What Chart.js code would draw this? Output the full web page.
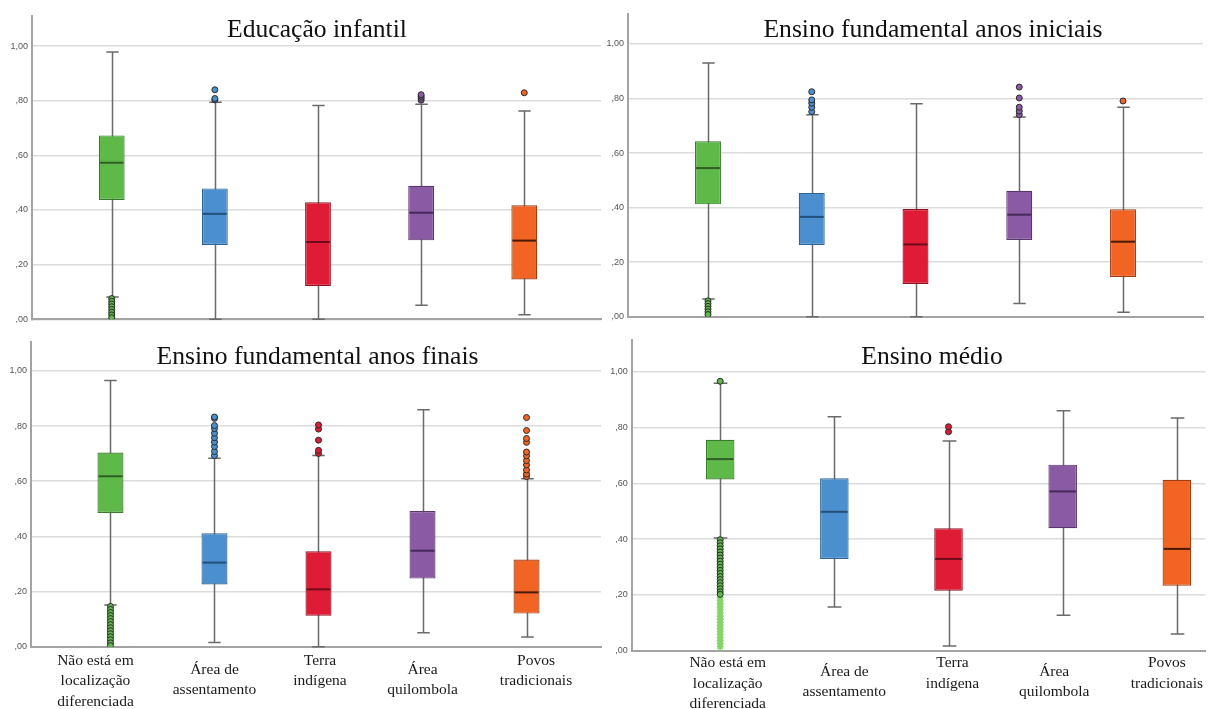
<!DOCTYPE html>
<html lang="pt-BR">
<head>
<meta charset="utf-8">
<title>Distribuição por localização diferenciada</title>
<script src="https://cdn.jsdelivr.net/npm/chart.js@4.4.1/dist/chart.umd.min.js"></script>
<style>
  html, body { margin: 0; padding: 0; background: #ffffff; }
  #wrap { position: relative; width: 1211px; height: 709px; overflow: hidden; background: #fff; }
  #wrap canvas { position: absolute; }
</style>
</head>
<body>
<div id="wrap">
  <canvas id="c1" width="605" height="330" style="left:0;top:0"></canvas>
  <canvas id="c2" width="606" height="330" style="left:605px;top:0"></canvas>
  <canvas id="c3" width="605" height="379" style="left:0;top:330px"></canvas>
  <canvas id="c4" width="606" height="379" style="left:605px;top:330px"></canvas>
</div>
<script>
// Categories (x axis) and their wrapped labels
const categories = [
  'Não está em localização diferenciada',
  'Área de assentamento',
  'Terra indígena',
  'Área quilombola',
  'Povos tradicionais'
];
const categoryLines = [
  ['Não está em', 'localização', 'diferenciada'],
  ['Área de', 'assentamento'],
  ['Terra', 'indígena'],
  ['Área', 'quilombola'],
  ['Povos', 'tradicionais']
];
const yTickLabels = [',00', ',20', ',40', ',60', ',80', '1,00'];

// Educação infantil
const infantilLow    = [0.082, 0.000, 0.000, 0.051, 0.017];
const infantilQ1     = [0.437, 0.272, 0.122, 0.289, 0.146];
const infantilMedian = [0.573, 0.386, 0.283, 0.390, 0.288];
const infantilQ3     = [0.673, 0.479, 0.428, 0.489, 0.417];
const infantilHigh   = [0.978, 0.794, 0.782, 0.787, 0.762];
const infantilOutliers = [
  [0.076, 0.066, 0.056, 0.046, 0.036, 0.026, 0.016, 0.006],
  [0.803, 0.808, 0.840],
  [],
  [0.802, 0.809, 0.816, 0.822],
  [0.829]
];

// Ensino fundamental anos iniciais
const iniciaisLow    = [0.065, 0.000, 0.000, 0.048, 0.016];
const iniciaisQ1     = [0.412, 0.263, 0.120, 0.281, 0.146];
const iniciaisMedian = [0.545, 0.366, 0.265, 0.374, 0.275];
const iniciaisQ3     = [0.643, 0.454, 0.395, 0.462, 0.394];
const iniciaisHigh   = [0.930, 0.741, 0.781, 0.732, 0.768];
const iniciaisOutliers = [
  [0.058, 0.048, 0.038, 0.028, 0.018, 0.008],
  [0.752, 0.768, 0.783, 0.795, 0.825],
  [],
  [0.741, 0.754, 0.768, 0.802, 0.842],
  [0.791]
];

// Ensino fundamental anos finais
const finaisLow    = [0.151, 0.015, 0.000, 0.051, 0.035];
const finaisQ1     = [0.485, 0.226, 0.112, 0.247, 0.120];
const finaisMedian = [0.618, 0.305, 0.208, 0.348, 0.197];
const finaisQ3     = [0.704, 0.411, 0.346, 0.492, 0.316];
const finaisHigh   = [0.965, 0.683, 0.693, 0.859, 0.609];
const finaisOutliers = [
  [0.146, 0.135, 0.124, 0.113, 0.102, 0.091, 0.080, 0.069, 0.058, 0.047, 0.036, 0.025, 0.014, 0.004],
  [0.693, 0.708, 0.726, 0.742, 0.758, 0.774, 0.791, 0.802, 0.828, 0.833],
  [0.701, 0.712, 0.749, 0.789, 0.804],
  [],
  [0.617, 0.626, 0.641, 0.659, 0.675, 0.692, 0.706, 0.741, 0.755, 0.784, 0.831]
];

// Ensino médio
const medioLow    = [0.404, 0.157, 0.017, 0.127, 0.060];
const medioQ1     = [0.614, 0.329, 0.215, 0.439, 0.233];
const medioMedian = [0.687, 0.498, 0.329, 0.571, 0.365];
const medioQ3     = [0.756, 0.618, 0.439, 0.667, 0.613];
const medioHigh   = [0.959, 0.839, 0.752, 0.860, 0.834];
const medioOutliers = [
  [0.966, 0.398, 0.387, 0.376, 0.365, 0.354, 0.343, 0.332, 0.321, 0.310, 0.299, 0.288, 0.277, 0.266, 0.255, 0.244, 0.233, 0.222, 0.211, 0.202],
  [],
  [0.785, 0.803],
  [],
  []
];
const medioExtremes = [
  [0.190, 0.179, 0.168, 0.157, 0.146, 0.135, 0.124, 0.113, 0.102, 0.091, 0.080, 0.069, 0.058, 0.047, 0.036, 0.025, 0.014],
  [], [], [], []
];

// Palette per category
const boxColors  = ['#5eb948', '#4c8fcf', '#e01b36', '#8a5ba4', '#f16424'];
const edgeColors = ['#3a7a2c', '#2f6594', '#8e1222', '#58386c', '#9c3d12'];
const medianColors = ['#2f5f25', '#22507a', '#6e0c19', '#47285c', '#4a1a06'];
const extremeColor = '#86d36a';

const serif = '"Liberation Serif", "Times New Roman", serif';
const sans = '"Liberation Sans", Arial, sans-serif';

// Whiskers, medians, panel title and category labels
const boxPlotPlugin = {
  id: 'boxPlot',
  beforeDatasetsDraw(chart, args, o) {
    const { ctx, scales: { x, y } } = chart;
    const unit = x.getPixelForValue(1) - x.getPixelForValue(0);
    const half = unit * o.capWidth / 2;
    ctx.save();
    ctx.strokeStyle = '#6a6a6a';
    ctx.lineWidth = 1.5;
    o.low.forEach((lo, i) => {
      const px = Math.round(x.getPixelForValue(i)) + 0.5;
      const yl = y.getPixelForValue(lo);
      const yh = y.getPixelForValue(o.high[i]);
      ctx.beginPath();
      ctx.moveTo(px, yl); ctx.lineTo(px, yh);
      ctx.moveTo(px - half, yl); ctx.lineTo(px + half, yl);
      ctx.moveTo(px - half, yh); ctx.lineTo(px + half, yh);
      ctx.stroke();
    });
    ctx.restore();
  },
  afterDatasetsDraw(chart, args, o) {
    const { ctx, scales: { x, y } } = chart;
    const unit = x.getPixelForValue(1) - x.getPixelForValue(0);
    const half = unit * o.boxWidth / 2;
    ctx.save();
    ctx.lineWidth = 2;
    o.median.forEach((m, i) => {
      const px = x.getPixelForValue(i);
      const py = y.getPixelForValue(m);
      ctx.strokeStyle = medianColors[i];
      ctx.beginPath();
      ctx.moveTo(px - half + 1, py); ctx.lineTo(px + half - 1, py);
      ctx.stroke();
    });
    ctx.restore();
  },
  afterDraw(chart, args, o) {
    const { ctx, chartArea, scales: { x } } = chart;
    ctx.save();
    ctx.fillStyle = '#111';
    ctx.font = '25.6px ' + serif;
    ctx.textAlign = 'center';
    ctx.textBaseline = 'alphabetic';
    ctx.fillText(o.title, o.titleX, o.titleY);
    if (o.showLabels) {
      ctx.font = '15.5px ' + serif;
      ctx.fillStyle = '#1a1a1a';
      ctx.textBaseline = 'middle';
      const maxLines = Math.max(...categoryLines.map(l => l.length));
      categoryLines.forEach((lines, i) => {
        const px = x.getPixelForValue(i) + o.labelShift[i];
        let top = chartArea.bottom + o.labelGap;
        if (o.labelAlign[i] === 'center') top += (maxLines - lines.length) * o.lineHeight / 2 - 1.5;
        lines.forEach((t, k) => ctx.fillText(t, px, top + k * o.lineHeight));
      });
    }
    ctx.restore();
  }
};

function flatten(groups) {
  const pts = [];
  groups.forEach((vals, i) => vals.forEach(v => pts.push({ x: i, y: v })));
  return pts;
}

function makePanel(cfg) {
  const canvas = document.getElementById(cfg.id);
  const W = canvas.width, H = canvas.height;
  const datasets = [
    {
      type: 'scatter',
      data: flatten(cfg.outliers),
      order: 0,
      pointRadius: 3,
      pointHoverRadius: 3,
      pointBorderWidth: 1,
      pointBackgroundColor: c => boxColors[c.raw ? c.raw.x : 0],
      pointBorderColor: '#2a2a2a'
    },
    {
      type: 'bar',
      data: cfg.q1.map((q, i) => ({ x: i, y: [q, cfg.q3[i]] })),
      order: 2,
      backgroundColor: boxColors,
      borderColor: edgeColors,
      borderWidth: 1.2,
      borderSkipped: false,
      categoryPercentage: 1,
      barPercentage: 0.25
    }
  ];
  if (cfg.extremes) {
    datasets.push({
      type: 'scatter',
      data: flatten(cfg.extremes),
      order: 1,
      pointStyle: 'star',
      pointRadius: 3.5,
      pointBorderWidth: 1.6,
      pointBorderColor: extremeColor,
      pointBackgroundColor: extremeColor
    });
  }
  return new Chart(canvas, {
    type: 'bar',
    data: { datasets },
    plugins: [boxPlotPlugin],
    options: {
      responsive: false,
      devicePixelRatio: 1,
      animation: false,
      events: [],
      layout: { padding: { left: 0, top: cfg.area.top, right: W - cfg.area.right, bottom: 0 } },
      plugins: {
        legend: { display: false },
        tooltip: { enabled: false },
        boxPlot: {
          low: cfg.low, high: cfg.high, median: cfg.median,
          capWidth: 0.12, boxWidth: 0.25,
          title: cfg.title, titleX: cfg.titleX, titleY: cfg.titleY,
          showLabels: cfg.showLabels, labelGap: cfg.labelGap || 14, lineHeight: 20.3,
          labelShift: cfg.labelShift || [0, 0, 0, 0, 0],
          labelAlign: ['top', 'center', 'top', 'center', 'top']
        }
      },
      scales: {
        x: {
          type: 'linear',
          offset: false,
          min: cfg.xMin, max: cfg.xMax,
          grid: { display: false, drawTicks: false },
          border: { display: true, color: '#a3a3a3', width: 2 },
          ticks: { display: false, stepSize: 1, includeBounds: false },
          afterFit: s => { s.height = H - cfg.area.bottom; }
        },
        y: {
          type: 'linear',
          min: 0, max: cfg.yMax,
          grid: { color: '#dcdcdc', lineWidth: 1.6, drawTicks: false },
          border: { display: true, color: '#a3a3a3', width: 2 },
          ticks: {
            stepSize: 0.2,
            includeBounds: false,
            padding: 4,
            color: '#555',
            font: { family: sans, size: 9 },
            callback: v => yTickLabels[Math.round(v / 0.2)] ?? ''
          },
          afterFit: s => { s.width = cfg.area.left; }
        }
      }
    }
  });
}

makePanel({
  id: 'c1', title: 'Educação infantil', titleX: 317, titleY: 37,
  area: { left: 32, top: 16, right: 603, bottom: 319.3 },
  xMin: -0.773, xMax: 4.744, yMax: 1.11,
  low: infantilLow, q1: infantilQ1, median: infantilMedian, q3: infantilQ3, high: infantilHigh,
  outliers: infantilOutliers, showLabels: false
});
makePanel({
  id: 'c2', title: 'Ensino fundamental anos iniciais', titleX: 328, titleY: 37,
  area: { left: 23, top: 14, right: 598, bottom: 316.7 },
  xMin: -0.771, xMax: 4.771, yMax: 1.11,
  low: iniciaisLow, q1: iniciaisQ1, median: iniciaisMedian, q3: iniciaisQ3, high: iniciaisHigh,
  outliers: iniciaisOutliers, showLabels: false
});
makePanel({
  id: 'c3', title: 'Ensino fundamental anos finais', titleX: 317.5, titleY: 33.5,
  area: { left: 31, top: 11.7, right: 605, bottom: 316.7 },
  xMin: -0.764, xMax: 4.716, yMax: 1.106,
  low: finaisLow, q1: finaisQ1, median: finaisMedian, q3: finaisQ3, high: finaisHigh,
  outliers: finaisOutliers, showLabels: true, labelGap: 14.3,
  labelShift: [-15, 0, 1.5, 0, 9.5]
});
makePanel({
  id: 'c4', title: 'Ensino médio', titleX: 327, titleY: 33.5,
  area: { left: 26.7, top: 10, right: 606, bottom: 320.7 },
  xMin: -0.775, xMax: 4.25, yMax: 1.114,
  low: medioLow, q1: medioQ1, median: medioMedian, q3: medioQ3, high: medioHigh,
  outliers: medioOutliers, extremes: medioExtremes, showLabels: true, labelGap: 12.6,
  labelShift: [7.5, 10, 4, -8.5, -10]
});
</script>
</body>
</html>
